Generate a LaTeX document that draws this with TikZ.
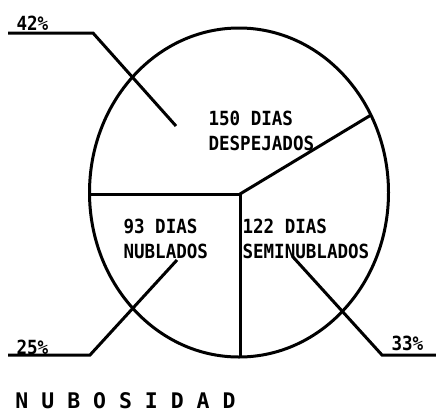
\documentclass[tikz,border=0pt]{standalone}
\usepackage{fontspec}
\setmonofont{DejaVu Sans Mono}[FakeStretch=0.9]
\newfontfamily\titlefont{DejaVu Sans Mono}

\begin{document}
\begin{tikzpicture}[x=1pt,y=-1pt,line width=3pt,
  lbl/.style={inner sep=0pt,anchor=north west,align=left,
    font=\ttfamily\bfseries\fontsize{19.5}{25}\selectfont}]
\useasboundingbox (0,0) rectangle (436,413);
\coordinate (c) at (240,194);
\coordinate (l) at (89.5,194);
\coordinate (b) at (240,357);
\coordinate (r) at (371,115);
\draw (239,192.5) ellipse [x radius=149.5pt, y radius=164.5pt];
\draw (l) -- (c) -- (b);
\draw (c) -- (r);
\node[lbl] (desp) at (207,110) {150 DIAS\\DESPEJADOS};
\node[lbl] (nub) at (122,218) {93 DIAS\\NUBLADOS};
\node[lbl] (semi) at (241,218) {122 DIAS\\SEMINUBLADOS};
\node[lbl] (p42) at (15,15) {42\%};
\node[lbl] (p25) at (15,339) {25\%};
\node[lbl] (p33) at (390,335) {33\%};
\coordinate (a1) at (8,33);
\coordinate (a2) at (93,33);
\coordinate (a3) at (176,126);
\coordinate (b1) at (8,355);
\coordinate (b2) at (90,355);
\coordinate (b3) at (177,260);
\coordinate (d1) at (293,257);
\coordinate (d2) at (382,355);
\coordinate (d3) at (436,355);
\draw (a1) -- (a2) -- (a3);
\draw (b1) -- (b2) -- (b3);
\draw (d1) -- (d2) -- (d3);
\node[lbl,font=\titlefont\bfseries\fontsize{21.5}{25}\selectfont] (title) at (14,391) {N U B O S I D A D};
\end{tikzpicture}
\end{document}
